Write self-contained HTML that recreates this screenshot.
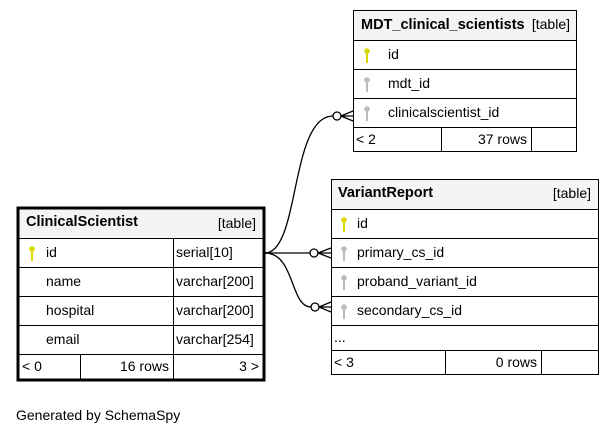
<!DOCTYPE html>
<html><head><style>
html,body{margin:0;padding:0;background:#fff;}
svg{display:block;font-family:"Liberation Sans",Arial,sans-serif;font-size:14px;}
</style></head><body>
<svg width="616" height="437" viewBox="0 0 616 437" xmlns="http://www.w3.org/2000/svg">
<defs>
<g id="key"><circle cx="0" cy="-3" r="2.8"/><rect x="-1" y="-1" width="2" height="10"/></g>
</defs>
<g fill="none" stroke="#000" stroke-width="1.3">
<path d="M265,253 C300,253 290,116 333,116"/>
<path d="M265,253 L310,253"/>
<path d="M265,253 C295,253 290,307 311,307"/>
<circle cx="337" cy="116" r="4" fill="#fff"/>
<circle cx="314" cy="253" r="4" fill="#fff"/>
<circle cx="315" cy="307" r="4" fill="#fff"/>
<path d="M341,116 L353,111 M341,116 L353,116 M341,116 L353,121"/>
<path d="M318,253 L331,248 M318,253 L331,253 M318,253 L331,258"/>
<path d="M319,307 L331,302 M319,307 L331,307 M319,307 L331,312"/>
</g>
<!-- MDT -->
<g stroke="#000" stroke-width="1">
<rect x="353.5" y="10.5" width="223" height="141" fill="#fff"/>
<rect x="354" y="11" width="222" height="29" fill="#f4f4f4" stroke="none"/>
<line x1="353" y1="40.5" x2="577" y2="40.5"/>
<line x1="353" y1="69.5" x2="577" y2="69.5"/>
<line x1="353" y1="98.5" x2="577" y2="98.5"/>
<line x1="353" y1="127.5" x2="577" y2="127.5"/>
<line x1="441.5" y1="127" x2="441.5" y2="152"/>
<line x1="531.5" y1="127" x2="531.5" y2="152"/>
</g>
<text x="361" y="29" font-weight="bold" font-size="14.5">MDT_clinical_scientists</text>
<text x="570" y="29" text-anchor="end">[table]</text>
<use href="#key" x="367" y="54" fill="#d8d800"/>
<text x="388" y="59">id</text>
<use href="#key" x="367" y="83" fill="#bbb"/>
<text x="388" y="88">mdt_id</text>
<use href="#key" x="367" y="112" fill="#bbb"/>
<text x="388" y="117">clinicalscientist_id</text>
<text x="356" y="144">&lt; 2</text>
<text x="527" y="144" text-anchor="end">37 rows</text>
<!-- VariantReport -->
<g stroke="#000" stroke-width="1">
<rect x="331.5" y="179.5" width="267" height="195" fill="#fff"/>
<rect x="332" y="180" width="266" height="29" fill="#f4f4f4" stroke="none"/>
<line x1="331" y1="209.5" x2="599" y2="209.5"/>
<line x1="331" y1="238.5" x2="599" y2="238.5"/>
<line x1="331" y1="267.5" x2="599" y2="267.5"/>
<line x1="331" y1="296.5" x2="599" y2="296.5"/>
<line x1="331" y1="325.5" x2="599" y2="325.5"/>
<line x1="331" y1="350.5" x2="599" y2="350.5"/>
<line x1="445.5" y1="350" x2="445.5" y2="375"/>
<line x1="541.5" y1="350" x2="541.5" y2="375"/>
</g>
<text x="338" y="197" font-weight="bold" font-size="14.5">VariantReport</text>
<text x="591" y="198" text-anchor="end">[table]</text>
<use href="#key" x="344" y="223" fill="#d8d800"/>
<text x="357" y="228">id</text>
<use href="#key" x="344" y="252" fill="#bbb"/>
<text x="357" y="257">primary_cs_id</text>
<use href="#key" x="344" y="281" fill="#bbb"/>
<text x="357" y="286">proband_variant_id</text>
<use href="#key" x="344" y="310" fill="#bbb"/>
<text x="357" y="315">secondary_cs_id</text>
<text x="334" y="342">...</text>
<text x="334" y="367">&lt; 3</text>
<text x="537" y="367" text-anchor="end">0 rows</text>
<!-- ClinicalScientist -->
<g stroke="#000" stroke-width="1">
<rect x="18" y="208" width="246" height="172" fill="#fff" stroke-width="3"/>
<rect x="19.5" y="209.5" width="243" height="28" fill="#f4f4f4" stroke="none"/>
<line x1="18" y1="238.5" x2="264" y2="238.5"/>
<line x1="18" y1="267.5" x2="264" y2="267.5"/>
<line x1="18" y1="296.5" x2="264" y2="296.5"/>
<line x1="18" y1="325.5" x2="264" y2="325.5"/>
<line x1="18" y1="354.5" x2="264" y2="354.5"/>
<line x1="173.5" y1="238" x2="173.5" y2="380"/>
<line x1="80.5" y1="354" x2="80.5" y2="380"/>
</g>
<text x="26" y="226" font-weight="bold" font-size="14.5">ClinicalScientist</text>
<text x="256" y="228" text-anchor="end">[table]</text>
<use href="#key" x="32" y="252" fill="#d8d800"/>
<text x="46" y="257">id</text>
<text x="176" y="257">serial[10]</text>
<text x="46" y="286">name</text>
<text x="176" y="286">varchar[200]</text>
<text x="46" y="315">hospital</text>
<text x="176" y="315">varchar[200]</text>
<text x="46" y="344">email</text>
<text x="176" y="344">varchar[254]</text>
<text x="22" y="371">&lt; 0</text>
<text x="169" y="371" text-anchor="end">16 rows</text>
<text x="259" y="371" text-anchor="end">3 &gt;</text>
<text x="16" y="420">Generated by SchemaSpy</text>
</svg>
</body></html>
